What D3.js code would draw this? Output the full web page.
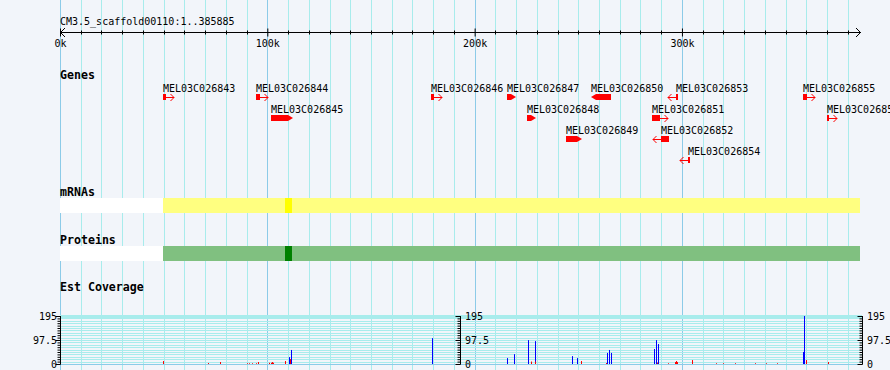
<!DOCTYPE html>
<html><head><meta charset="utf-8">
<script src="https://cdn.jsdelivr.net/npm/d3@7"></script>
<style>html,body{margin:0;padding:0;background:#f2f5fa;}svg{display:block;}</style>
</head><body>
<svg id="c" width="890" height="370"></svg>
<script>
// ---------- data ----------
const seqTitle = "CM3.5_scaffold00110:1..385885";
const seqLength = 385885;
const majorTicks = [0, 100000, 200000, 300000];
const majorTickLabels = ["0k", "100k", "200k", "300k"];
const minorStep = 10000;

const geneNames = ["MEL03C026843","MEL03C026844","MEL03C026845","MEL03C026846","MEL03C026847","MEL03C026848","MEL03C026849","MEL03C026850","MEL03C026851","MEL03C026852","MEL03C026853","MEL03C026854","MEL03C026855","MEL03C026856"];
const geneStarts = [49683, 94543, 101778, 178956, 215615, 225262, 244074, 256133, 285557, 289898, 297134, 302922, 358393, 369970];
const geneEnds   = [51130, 96472, 112390, 180403, 219956, 229603, 251792, 265780, 289416, 293757, 298098, 303887, 360323, 370935];
const geneStrands = [1, 1, 1, 1, 1, 1, 1, -1, 1, -1, -1, -1, 1, 1];
const geneRows    = [0, 0, 1, 0, 0, 1, 2, 0, 1, 2, 0, 3, 0, 1];

const mrnaSpan = [49683, 385885];
const mrnaHighlight = [108530, 111900];
const proteinSpan = [49683, 385885];
const proteinHighlight = [108530, 111900];

const covMax = 195;
const covTickLabels = ["0", "97.5", "195"];
const covTickValues = [0, 97.5, 195];
const estPosBlue = [110460, 111570, 179580, 215760, 218990, 225890, 228980, 247120, 249520, 264000, 264960, 265540, 286670, 287630, 288600, 358440, 359020];
const estValBlue = [28, 57, 105, 24, 40, 97, 93, 32, 24, 45, 57, 45, 61, 97, 81, 49, 195];
const estPosRed = [49830, 71530, 77320, 89960, 91310, 92760, 94690, 95650, 101050, 101540, 102020, 102500, 102980, 108680, 111090, 227340, 229270, 251450, 263510, 288110, 293420, 296510, 296990, 297470, 305000, 316580, 319950, 325600, 335100, 340400, 345710, 359990, 370600];
const estValRed = [12, 4, 8, 3, 3, 3, 3, 8, 5, 5, 8, 5, 5, 12, 20, 10, 10, 12, 4, 6, 3, 8, 12, 8, 16, 3, 3, 3, 3, 3, 3, 16, 8];

// ---------- drawing ----------
const W = 890, H = 370;
const svg = d3.select("#c");
const mono = "'DejaVu Sans Mono', 'Liberation Mono', monospace";
const x = d3.scaleLinear().domain([0, seqLength]).range([60, 860]);

svg.append("rect").attr("width", W).attr("height", H).attr("fill", "#f2f5fa");

// vertical grid
const gridVals = d3.range(0, seqLength, minorStep);
svg.append("g").selectAll("line").data(gridVals).join("line")
  .attr("x1", d => Math.round(x(d)) + 0.5).attr("x2", d => Math.round(x(d)) + 0.5)
  .attr("y1", 0).attr("y2", H)
  .attr("stroke", d => d % 100000 === 0 ? "#8ccbe8" : "#a8ecec").attr("stroke-width", 1);

// title
svg.append("text").attr("x", 60).attr("y", 24.5).attr("font-family", mono).attr("font-size", 10)
  .attr("fill", "#000").text(seqTitle);

// ruler
const axisY = 32.5;
const rulerG = svg.append("g").attr("transform", `translate(0,${axisY})`);
const minorTicks = gridVals.filter(d => d % 100000 !== 0);
rulerG.selectAll("line.mn").data(minorTicks).join("line")
  .attr("x1", d => Math.round(x(d)) + 0.5).attr("x2", d => Math.round(x(d)) + 0.5)
  .attr("y1", -2).attr("y2", 2).attr("stroke", "#000");
const axB = d3.axisBottom(x).tickValues(majorTicks).tickFormat((d, i) => majorTickLabels[i]).tickSize(4).tickPadding(3);
const gb = rulerG.append("g").call(axB);
gb.select(".domain").remove();
gb.selectAll("text").attr("font-family", mono).attr("font-size", 10).attr("fill", "#000");
gb.selectAll("line").attr("stroke", "#000");
const axT = d3.axisTop(x).tickValues(majorTicks).tickFormat("").tickSize(4);
const gt = rulerG.append("g").call(axT);
gt.select(".domain").remove();
gt.selectAll("line").attr("stroke", "#000");
rulerG.append("line").attr("x1", 60).attr("x2", 861).attr("y1", 0).attr("y2", 0).attr("stroke", "#000");
rulerG.append("path").attr("d", "M65,-4.5L60.5,0L65,4.5").attr("fill", "none").attr("stroke", "#000");
rulerG.append("path").attr("d", "M856,-4.5L860.5,0L856,4.5").attr("fill", "none").attr("stroke", "#000");

// track labels
const labelFont = (sel) => sel.attr("font-family", mono).attr("font-size", 11.6).attr("font-weight", "bold").attr("fill", "#000");
svg.append("text").attr("x", 60).attr("y", 79).call(labelFont).text("Genes");
svg.append("text").attr("x", 60).attr("y", 195.5).call(labelFont).text("mRNAs");
svg.append("text").attr("x", 60).attr("y", 243.5).call(labelFont).text("Proteins");
svg.append("text").attr("x", 60).attr("y", 291).call(labelFont).text("Est Coverage");

// genes
const genes = geneNames.map((n, i) => ({name: n, s: geneStarts[i], e: geneEnds[i], strand: geneStrands[i], row: geneRows[i]}));
const rowY = r => 97 + r * 21;
const gg = svg.append("g");
genes.forEach(g => {
  const xs = x(g.s), xe = x(g.e), w = xe - xs, cy = rowY(g.row);
  gg.append("text").attr("x", Math.round(xs)).attr("y", cy - 5.5).attr("font-family", mono).attr("font-size", 10).attr("fill", "#000").text(g.name);
  if (w >= 8.5) {
    const t = 5;
    let pts;
    if (g.strand > 0) pts = [[xs, cy - 3], [xe - t, cy - 3], [xe, cy], [xe - t, cy + 3], [xs, cy + 3]];
    else pts = [[xe, cy - 3], [xs + t, cy - 3], [xs, cy], [xs + t, cy + 3], [xe, cy + 3]];
    gg.append("path").attr("d", "M" + pts.map(p => p.join(",")).join("L") + "Z").attr("fill", "#ff0000");
  } else {
    const bw = Math.max(2, w);
    gg.append("rect").attr("x", g.strand > 0 ? xs : xe - bw).attr("y", cy - 3).attr("width", bw).attr("height", 6).attr("fill", "#ff0000");
    const a0 = g.strand > 0 ? xs + bw : xe - bw;
    const a1 = g.strand > 0 ? a0 + 8 : a0 - 8;
    const dir = g.strand;
    gg.append("line").attr("x1", a0).attr("x2", a1).attr("y1", cy + 0.5).attr("y2", cy + 0.5).attr("stroke", "#ff0000");
    gg.append("path").attr("d", `M${a1 - dir * 3.5},${cy - 3}L${a1},${cy + 0.5}L${a1 - dir * 3.5},${cy + 4}`)
      .attr("fill", "none").attr("stroke", "#ff0000");
  }
});

// mRNA & protein tracks
function spanTrack(y0, span, hl, c1, c2) {
  svg.append("rect").attr("x", 60).attr("y", y0).attr("width", 800).attr("height", 15).attr("fill", "#ffffff");
  svg.append("rect").attr("x", x(span[0])).attr("y", y0).attr("width", x(span[1]) - x(span[0])).attr("height", 15).attr("fill", c1);
  svg.append("rect").attr("x", x(hl[0])).attr("y", y0).attr("width", x(hl[1]) - x(hl[0])).attr("height", 15).attr("fill", c2);
}
spanTrack(198, mrnaSpan, mrnaHighlight, "#ffff80", "#ffff00");
spanTrack(246, proteinSpan, proteinHighlight, "#80c080", "#008000");

// coverage
const y = d3.scaleLinear().domain([0, covMax]).range([364, 316]);
const covTicks = d3.range(0, covMax + 0.01, covMax / 20);
const cg = svg.append("g");
cg.selectAll("line.hg").data(covTicks).join("line")
  .attr("x1", 60).attr("x2", 862).attr("y1", d => Math.round(y(d)) + 0.5).attr("y2", d => Math.round(y(d)) + 0.5)
  .attr("stroke", "#a8ecec").attr("stroke-width", d => d === covMax ? 3 : 1);
cg.append("line").attr("x1", 60).attr("x2", 862).attr("y1", 364.5).attr("y2", 364.5).attr("stroke", "#8ccbe8");

cg.selectAll("rect.b").data(estPosBlue).join("rect")
  .attr("x", d => Math.round(x(d))).attr("width", 1)
  .attr("y", (d, i) => y(estValBlue[i])).attr("height", (d, i) => 364 - y(estValBlue[i])).attr("fill", "#0000ff");
cg.selectAll("rect.r").data(estPosRed).join("rect")
  .attr("x", d => Math.round(x(d))).attr("width", 1)
  .attr("y", (d, i) => y(estValRed[i])).attr("height", (d, i) => 364 - y(estValRed[i])).attr("fill", "#ff0000");

// coverage axes
[60, 460, 862].forEach((ax, k) => {
  const a = d3.axisLeft(y).tickValues(covTicks).tickFormat("").tickSize(3);
  const g = cg.append("g").attr("transform", `translate(${ax + 0.5},0)`).call(a);
  g.select(".domain").attr("d", `M0,${y(covMax)}V${y(0)}`).attr("stroke", "#000");
  g.selectAll("line").attr("stroke", "#000");
  const m = d3.axisLeft(y).tickValues(covTickValues).tickFormat("").tickSize(5);
  const g2 = cg.append("g").attr("transform", `translate(${ax + 0.5},0)`).call(m);
  g2.select(".domain").remove();
  g2.selectAll("line").attr("stroke", "#000");
  covTickValues.forEach((v, i) => {
    cg.append("text").attr("x", k === 0 ? ax - 3 : ax + 5).attr("y", y(v) + 3.5)
      .attr("text-anchor", k === 0 ? "end" : "start")
      .attr("font-family", mono).attr("font-size", 10).attr("fill", "#000").text(covTickLabels[i]);
  });
});
</script>
</body></html>
